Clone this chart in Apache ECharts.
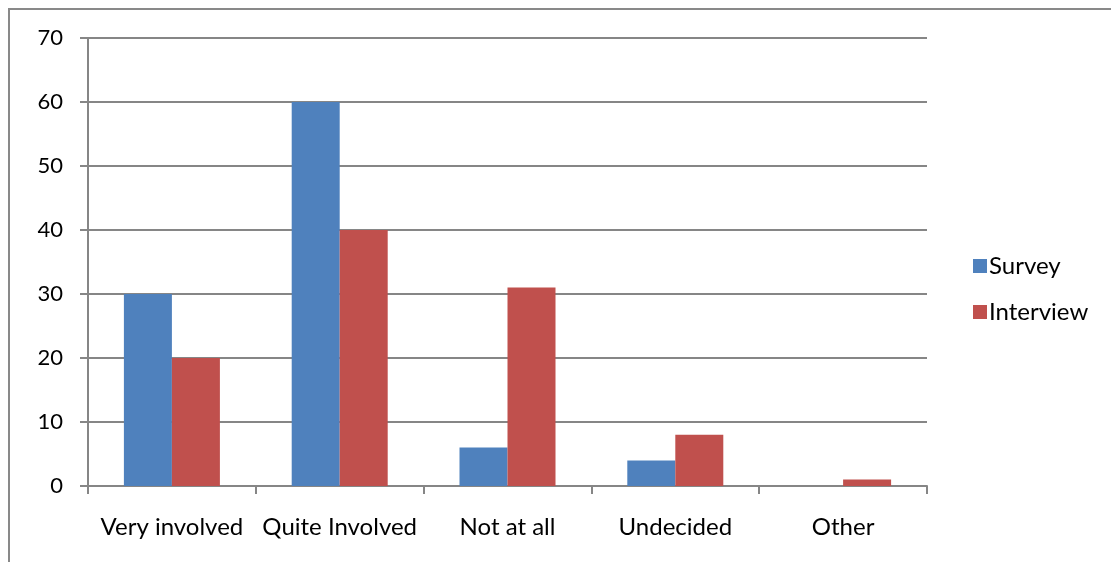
<!DOCTYPE html>
<html lang="en">
  <head>
    <meta charset="UTF-8" />
    <title>Involvement</title>
    <style>
      html, body { margin: 0; padding: 0; background: #fff; }
      #main { width: 1111px; height: 562px; }
    </style>
  </head>
  <body>
    <div id="main"></div>
    <script src="https://cdn.jsdelivr.net/npm/echarts@6/dist/echarts.min.js"></script>
    <script>
      const categories = ["Very involved", "Quite Involved", "Not at all", "Undecided", "Other"];
      const survey = [30, 60, 6, 4, 0];
      const interview = [20, 40, 31, 8, 1];

      const chart = echarts.init(document.getElementById("main"));
      const font = "Lato, 'Open Sans', sans-serif";

      chart.setOption({
        animation: false,
        textStyle: { fontFamily: font },
        graphic: [
          {
            type: "rect",
            shape: { x: 9, y: 9, width: 1200, height: 700 },
            style: { fill: "none", stroke: "#898989", lineWidth: 2 },
            silent: true,
          },
        ],
        grid: { left: 88, right: 184, top: 38, bottom: 76 },
        legend: {
          orient: "vertical",
          left: 968,
          top: 249,
          itemWidth: 14,
          itemHeight: 14,
          itemGap: 22,
          icon: "rect",
          textStyle: { fontSize: 24, color: "#000", fontFamily: font, padding: [0, 0, 0, -3] },
          data: ["Survey", "Interview"],
        },
        xAxis: {
          type: "category",
          data: categories,
          axisLine: { lineStyle: { color: "#868686", width: 2 } },
          axisTick: { show: true, length: 8, interval: 0, lineStyle: { color: "#868686", width: 2 } },
          axisLabel: { fontSize: 24, color: "#000", margin: 29, interval: 0, hideOverlap: false, fontFamily: font },
        },
        yAxis: {
          type: "value",
          min: 0,
          max: 70,
          interval: 10,
          axisLine: { show: true, lineStyle: { color: "#868686", width: 2 } },
          axisTick: { show: true, length: 8, lineStyle: { color: "#868686", width: 2 } },
          axisLabel: { fontSize: 22, color: "#000", margin: 25, fontFamily: font },
          splitLine: { lineStyle: { color: "#868686", width: 2 } },
        },
        series: [
          {
            name: "Survey",
            type: "bar",
            data: survey,
            barWidth: 48,
            barGap: "0%",
            itemStyle: { color: "#4F81BD" },
          },
          {
            name: "Interview",
            type: "bar",
            data: interview,
            barWidth: 48,
            itemStyle: { color: "#C0504D" },
          },
        ],
      });
    </script>
  </body>
</html>
